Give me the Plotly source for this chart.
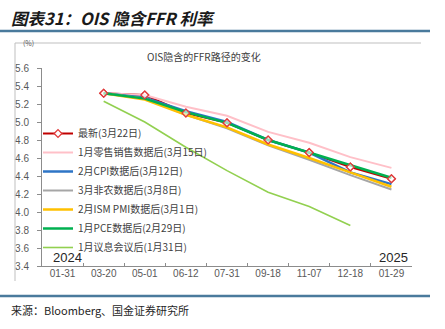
import plotly.graph_objects as go

# ---------------- data ----------------
categories = ["01-31", "03-20", "05-01", "06-12", "07-31", "09-18", "11-07", "12-18", "01-29"]

series_names = [
    "最新(3月22日)",
    "1月零售销售数据后(3月15日)",
    "2月CPI数据后(3月12日)",
    "3月非农数据后(3月8日)",
    "2月ISM PMI数据后(3月1日)",
    "1月PCE数据后(2月29日)",
    "1月议息会议后(1月31日)",
]

latest_0322   = [None, 5.32, 5.30, 5.10, 4.99, 4.80, 4.66, 4.50, 4.37]
retail_0315   = [None, 5.32, 5.30, 5.17, 5.07, 4.89, 4.77, 4.61, 4.49]
cpi_0312      = [None, 5.32, 5.27, 5.12, 5.00, 4.80, 4.66, 4.44, 4.31]
nfp_0308      = [None, 5.32, 5.26, 5.08, 4.93, 4.74, 4.58, 4.41, 4.25]
ism_0301      = [None, 5.32, 5.25, 5.08, 4.94, 4.75, 4.60, 4.44, 4.28]
pce_0229      = [None, 5.32, 5.26, 5.11, 4.99, 4.80, 4.66, 4.52, 4.38]
fomc_0131     = [None, 5.23, 5.00, 4.72, 4.46, 4.22, 4.06, 3.85, None]

series_values = [latest_0322, retail_0315, cpi_0312, nfp_0308, ism_0301, pce_0229, fomc_0131]

y_range = [3.4, 5.6]
y_dtick = 0.2

# ---------------- styles ----------------
colors = ["#C00000", "#FFC0C8", "#2E75C6", "#A6A6A6", "#FFC000", "#00B050", "#92D050"]
widths = [2, 2, 2.5, 2, 2.5, 2.5, 1.6]

W, H = 445, 329
PL, PR, PT, PB = 42, 412, 68, 266  # plot area in px


def px_x(x):
    return (x - PL) / (PR - PL)


def px_y(y):
    return (PB - y) / (PB - PT)


CJK = "Noto Sans CJK SC"
TXT = "#404040"

fig = go.Figure()

for i, (name, vals) in enumerate(zip(series_names, series_values)):
    if i == 0:
        fig.add_trace(go.Scatter(
            x=categories, y=vals, name=name, mode="lines+markers",
            line=dict(color=colors[i], width=widths[i]),
            marker=dict(symbol="diamond", size=6, color="white",
                        line=dict(color="#E03C3C", width=1.3)),
            connectgaps=False,
        ))
    else:
        fig.add_trace(go.Scatter(
            x=categories, y=vals, name=name, mode="lines",
            line=dict(color=colors[i], width=widths[i]),
            connectgaps=False,
        ))

# latest markers on top
fig.add_trace(go.Scatter(
    x=categories, y=latest_0322, mode="markers", showlegend=False, hoverinfo="skip",
    marker=dict(symbol="diamond", size=6, color="rgba(255,255,255,0.6)",
                line=dict(color="#E03C3C", width=1.3)),
))

fig.update_layout(
    width=W, height=H,
    margin=dict(l=PL, r=W - PR, t=PT, b=H - PB, pad=0),
    paper_bgcolor="white", plot_bgcolor="white",
    font=dict(family=CJK, size=10, color=TXT),
    showlegend=True,
    legend=dict(
        x=px_x(38), y=px_y(119), xanchor="left", yanchor="top",
        bgcolor="rgba(0,0,0,0)", borderwidth=0,
        font=dict(family=CJK, size=10, color=TXT),
        tracegroupgap=0, itemwidth=30,
    ),
    xaxis=dict(
        type="category", categoryorder="array", categoryarray=categories,
        range=[-0.5, len(categories) - 0.5],
        showline=True, linecolor="#8C8C8C", linewidth=1,
        ticks="inside", ticklen=3, tickcolor="#8C8C8C", tickson="boundaries",
        showgrid=False, zeroline=False,
        tickfont=dict(family="Liberation Sans", size=10, color="#595959"),
        ticklabelstandoff=-2,
    ),
    yaxis=dict(
        range=y_range, dtick=y_dtick, tick0=y_range[0], tickformat=".1f",
        showline=True, linecolor="#8C8C8C", linewidth=1,
        ticks="outside", ticklen=4, tickcolor="#8C8C8C",
        showgrid=False, zeroline=False,
        tickfont=dict(family="Liberation Sans", size=10, color="#595959"),
        ticklabelstandoff=6,
    ),
)

shapes = [
    # header rule
    dict(type="line", xref="paper", yref="paper", x0=px_x(0), x1=px_x(430), y0=px_y(31), y1=px_y(31),
         line=dict(color="#4A7A9C", width=2.5)),
    # footer rule
    dict(type="line", xref="paper", yref="paper", x0=px_x(0), x1=px_x(430), y0=px_y(296), y1=px_y(296),
         line=dict(color="#4A7A9C", width=2.5)),
    # chart frame top and left
    dict(type="line", xref="paper", yref="paper", x0=px_x(15), x1=px_x(421), y0=px_y(43), y1=px_y(43),
         line=dict(color="#BFBFBF", width=1)),
    dict(type="line", xref="paper", yref="paper", x0=px_x(15), x1=px_x(15), y0=px_y(43), y1=px_y(281),
         line=dict(color="#BFBFBF", width=1)),
]
fig.update_layout(shapes=shapes)

annotations = [
    dict(text="图表31：OIS 隐含FFR 利率", x=px_x(9), y=px_y(18), xanchor="left", yanchor="middle",
         font=dict(family=CJK, size=16.5, color="#1A1A1A", weight="bold", style="italic")),
    dict(text="OIS隐含的FFR路径的变化", x=px_x(204), y=px_y(56), xanchor="center", yanchor="middle",
         font=dict(family=CJK, size=10, color="#404040")),
    dict(text="(%)", x=px_x(21), y=px_y(43), xanchor="left", yanchor="middle",
         font=dict(family=CJK, size=7, color="#595959")),
    dict(text="2024", x=px_x(51), y=px_y(257), xanchor="left", yanchor="middle",
         font=dict(family="Liberation Sans", size=13, color="#262626")),
    dict(text="2025", x=px_x(410), y=px_y(257), xanchor="right", yanchor="middle",
         font=dict(family="Liberation Sans", size=13, color="#262626")),
    dict(text="来源：Bloomberg、国金证券研究所", x=px_x(9), y=px_y(310), xanchor="left", yanchor="middle",
         font=dict(family=CJK, size=11, color="#262626")),
]
for a in annotations:
    a.update(xref="paper", yref="paper", showarrow=False)
fig.update_layout(annotations=annotations)

fig.write_html("out.html")
